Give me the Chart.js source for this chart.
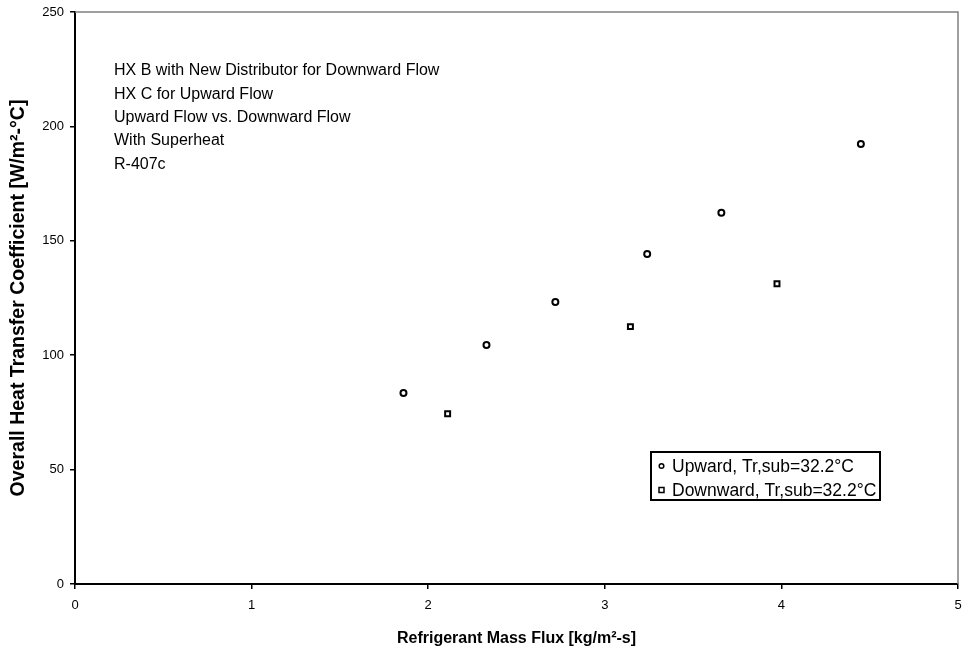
<!DOCTYPE html>
<html>
<head>
<meta charset="utf-8">
<script src="https://cdn.jsdelivr.net/npm/chart.js@4/dist/chart.umd.min.js"></script>
<style>
body { margin: 0; background: #fff; }
canvas { display: block; }
</style>
</head>
<body>
<canvas id="hxChart" width="967" height="652"></canvas>
<script>
// values
const upwardFlux = [1.86, 2.33, 2.72, 3.24, 3.66, 4.45];
const upwardU = [83.5, 104.5, 123.2, 144.2, 162.3, 192.3];
const downwardFlux = [2.11, 3.145, 3.975];
const downwardU = [74.4, 112.5, 131.2];
const xTicks = [0, 1, 2, 3, 4, 5];
const yTicks = [0, 50, 100, 150, 200, 250];
const notes = [
  'HX B with New Distributor for Downward Flow',
  'HX C for Upward Flow',
  'Upward Flow vs. Downward Flow',
  'With Superheat',
  'R-407c'
];
const seriesNames = ['Upward, Tr,sub=32.2°C', 'Downward, Tr,sub=32.2°C'];

function toPoints(xs, ys) {
  return xs.map((x, i) => ({ x: x, y: ys[i] }));
}

const FONT = 'Arial, "Liberation Sans", sans-serif';

// gray top/right frame, note text and the boxed legend
const extras = {
  id: 'extras',
  afterDraw(chart) {
    const c = chart.ctx;
    const a = chart.chartArea;
    c.save();
    c.strokeStyle = '#808080';
    c.lineWidth = 1.5;
    c.beginPath();
    c.moveTo(a.left, a.top);
    c.lineTo(a.right, a.top);
    c.lineTo(a.right, a.bottom);
    c.stroke();

    c.fillStyle = '#000';
    c.font = '16px ' + FONT;
    c.textBaseline = 'middle';
    c.textAlign = 'left';
    notes.forEach((t, i) => c.fillText(t, 114, 71 + i * 23.3));

    // legend
    c.strokeStyle = '#000';
    c.lineWidth = 2;
    c.strokeRect(651, 452, 229, 48);
    c.font = '17.5px ' + FONT;
    chart.data.datasets.forEach((ds, i) => {
      const y = 466 + i * 24;
      c.lineWidth = 1.5;
      c.strokeStyle = '#000';
      c.fillStyle = '#fff';
      c.beginPath();
      if (ds.pointStyle === 'rect') {
        c.rect(659, y - 2.5, 5, 5);
      } else {
        c.arc(661.5, y, 2.3, 0, Math.PI * 2);
      }
      c.fill();
      c.stroke();
      c.fillStyle = '#000';
      c.fillText(ds.label, 672, y + 1);
    });
    c.restore();
  }
};

new Chart(document.getElementById('hxChart'), {
  type: 'scatter',
  data: {
    datasets: [
      {
        label: seriesNames[0],
        data: toPoints(upwardFlux, upwardU),
        pointStyle: 'circle',
        pointRadius: 3,
        borderColor: '#000',
        backgroundColor: '#fff',
        borderWidth: 2
      },
      {
        label: seriesNames[1],
        data: toPoints(downwardFlux, downwardU),
        pointStyle: 'rect',
        pointRadius: 3.5,
        borderColor: '#000',
        backgroundColor: '#fff',
        borderWidth: 2
      }
    ]
  },
  options: {
    responsive: false,
    animation: false,
    layout: { padding: { top: 12, right: 9, left: 0, bottom: 0 } },
    plugins: {
      legend: { display: false },
      tooltip: { enabled: false }
    },
    scales: {
      x: {
        type: 'linear',
        min: 0,
        max: 5,
        afterBuildTicks: s => { s.ticks = xTicks.map(v => ({ value: v })); },
        afterFit: s => { s.height = 68; s.paddingLeft = 0; s.paddingRight = 0; },
        ticks: { color: '#000', font: { family: FONT, size: 13 }, padding: 9 },
        grid: { drawOnChartArea: false, color: '#000', tickLength: 5, lineWidth: 1.5 },
        border: { color: '#000', width: 2 },
        title: {
          display: true,
          text: 'Refrigerant Mass Flux [kg/m²-s]',
          color: '#000',
          font: { family: FONT, size: 16, weight: 'bold' },
          padding: { top: 10, bottom: 4 }
        }
      },
      y: {
        type: 'linear',
        min: 0,
        max: 250,
        afterBuildTicks: s => { s.ticks = yTicks.map(v => ({ value: v })); },
        afterFit: s => { s.width = 75; s.paddingTop = 0; s.paddingBottom = 0; },
        ticks: { color: '#000', font: { family: FONT, size: 13 }, padding: 6 },
        grid: { drawOnChartArea: false, color: '#000', tickLength: 5, lineWidth: 1.5 },
        border: { color: '#000', width: 2 },
        title: {
          display: true,
          text: 'Overall Heat Transfer Coefficient [W/m²-°C]',
          color: '#000',
          font: { family: FONT, size: 19.5, weight: 'bold' },
          padding: { top: 7, bottom: 0 }
        }
      }
    }
  },
  plugins: [extras]
});
</script>
</body>
</html>
